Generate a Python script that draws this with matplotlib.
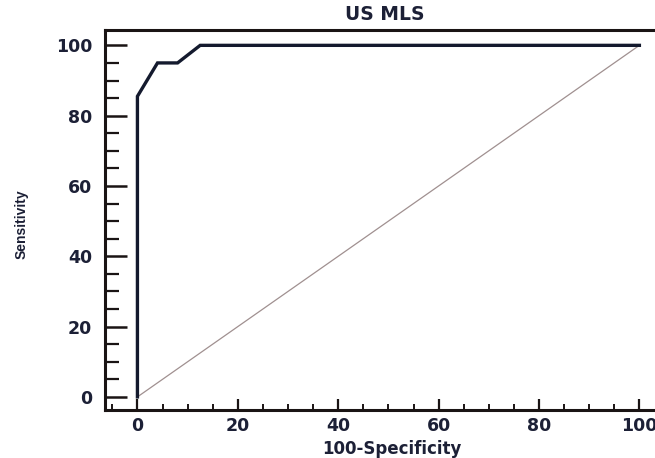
import numpy as np
import matplotlib
matplotlib.use("Agg")
import matplotlib.pyplot as plt
from matplotlib.ticker import MultipleLocator

# ROC curve points (100-Specificity, Sensitivity)
fpr = [0, 0, 4, 8, 12.5, 100]
tpr = [0, 85.5, 95, 95, 100, 100]
diag = [0, 100]
x_ticks = [0, 20, 40, 60, 80, 100]
y_ticks = [0, 20, 40, 60, 80, 100]

C_TEXT = "#1c2036"
C_AX = "#1a1414"

plt.rcParams.update({
    "font.family": ["DejaVu Sans"],
})

fig = plt.figure(figsize=(6.55, 4.58), dpi=100)
# axes: left spine ~105 px, bottom ~410 px, top ~30 px; right runs off the page
ax = fig.add_axes([0.160, 0.105, 0.843, 0.829])

ax.plot(diag, diag, color="#a09090", lw=0.9, zorder=2)
ax.plot(fpr, tpr, color="#141a2e", lw=2.4, solid_joinstyle="miter", zorder=3)

ax.set_xlim(-6.5, 103.5)
ax.set_ylim(-3.7, 104.3)
ax.set_xticks(x_ticks)
ax.set_yticks(y_ticks)
ax.xaxis.set_minor_locator(MultipleLocator(5))
ax.yaxis.set_minor_locator(MultipleLocator(5))

for s in ax.spines.values():
    s.set_linewidth(2.2)
    s.set_color(C_AX)

ax.tick_params(axis="y", which="major", direction="in", length=16, width=1.8,
               color=C_AX, pad=9)
ax.tick_params(axis="y", which="minor", direction="in", length=10, width=1.6,
               color=C_AX)
ax.tick_params(axis="x", which="major", direction="in", length=8, width=1.6,
               color=C_AX, pad=5)
ax.tick_params(axis="x", which="minor", direction="in", length=4, width=1.4,
               color=C_AX)
ax.tick_params(axis="y", right=False)
ax.tick_params(axis="x", top=False)

for lab in ax.get_xticklabels() + ax.get_yticklabels():
    lab.set_fontsize(12.5)
    lab.set_fontweight("bold")
    lab.set_color(C_TEXT)

fig.text(392 / 655, 1 - 449 / 458, "100-Specificity", ha="center", va="center",
         fontsize=12, fontweight="bold", color=C_TEXT)
fig.text(22 / 655, 1 - 224 / 458, "Sensitivity", ha="center", va="center",
         rotation=90, fontsize=10, family=["Liberation Sans", "DejaVu Sans"],
         fontweight="bold", color=C_TEXT)
fig.text(385 / 655, 1 - 15 / 458, "US MLS", ha="center", va="center",
         fontsize=13.5, fontweight="bold", color=C_TEXT)

fig.savefig("out.png", dpi=100, facecolor="white")
